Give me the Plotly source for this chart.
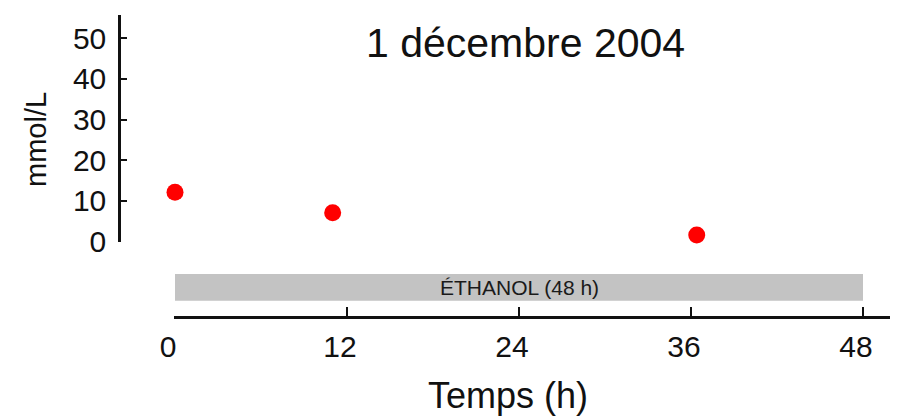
import plotly.graph_objects as go

# ---- data ----
time_h = [0, 11, 36.4]
conc_mmol = [12.1, 7.1, 1.6]
x_ticks = [0, 12, 24, 36, 48]
y_ticks = [0, 10, 20, 30, 40, 50]
treatment_label = "ÉTHANOL (48 h)"
treatment_start = [0]
treatment_end = [48]
title_text = "1 décembre 2004"
x_title = "Temps (h)"
y_title = "mmol/L"

OFF = 8  # page body margin
W, H = 899 - OFF, 420 - OFF
FONT = "Liberation Sans, Arial, sans-serif"

def px(xp):
    return (xp - OFF) / W

def py(yp):
    return 1 - (yp - OFF) / H

fig = go.Figure()
fig.add_trace(go.Scatter(
    x=time_h, y=conc_mmol, mode="markers",
    marker=dict(color="#ff0000", size=17, line=dict(width=0)),
    cliponaxis=False, showlegend=False,
))

fig.add_shape(type="rect", xref="x", yref="paper",
              x0=treatment_start[0], x1=treatment_end[0],
              y0=py(300.7), y1=py(274),
              fillcolor="#c3c3c3", line=dict(width=0), layer="below")

fig.add_annotation(x=(treatment_start[0] + treatment_end[0]) / 2, xref="x",
                   y=py(287.5), yref="paper", text=treatment_label,
                   showarrow=False, font=dict(family=FONT, size=21, color="#1a1a1a"),
                   xanchor="center", yanchor="middle")

fig.add_annotation(x=px(525), y=py(43), xref="paper", yref="paper",
                   text=title_text, showarrow=False,
                   font=dict(family=FONT, size=41, color="#111"),
                   xanchor="center", yanchor="middle")
fig.add_annotation(x=px(508), y=py(395), xref="paper", yref="paper",
                   text=x_title, showarrow=False,
                   font=dict(family=FONT, size=36, color="#111"),
                   xanchor="center", yanchor="middle")
fig.add_annotation(x=px(36), y=py(140), xref="paper", yref="paper",
                   text=y_title, showarrow=False, textangle=-90,
                   font=dict(family=FONT, size=29, color="#111"),
                   xanchor="center", yanchor="middle")

k = 688 / 48.0
fig.update_layout(
    width=W, height=H,
    margin=dict(l=0, r=0, t=0, b=0, pad=0),
    paper_bgcolor="white", plot_bgcolor="white",
    xaxis=dict(
        domain=[px(174), px(890)],
        range=[(174 - 175) / k, (890 - 175) / k],
        anchor="free", position=py(317),
        showgrid=False, zeroline=False,
        showline=True, linecolor="#111", linewidth=2.5,
        ticks="inside", ticklen=9, tickwidth=2, tickcolor="#111",
        tickvals=x_ticks, ticktext=[str(v) for v in x_ticks],
        tickfont=dict(family=FONT, size=30, color="#111"),
        ticklabelshift=-7, ticklabelstandoff=2,
        automargin=False, fixedrange=True,
    ),
    yaxis=dict(
        domain=[py(241.5), py(15)],
        range=[0, (241.5 - 15) / 4.064],
        anchor="free", position=px(119),
        showgrid=False, zeroline=False,
        showline=True, linecolor="#111", linewidth=2.5,
        ticks="inside", ticklen=6, tickwidth=2, tickcolor="#111",
        tickvals=y_ticks, ticktext=[str(v) for v in y_ticks],
        tickfont=dict(family=FONT, size=30, color="#111"),
        ticklabelstandoff=6,
        automargin=False, fixedrange=True,
    ),
)

fig.write_html("out.html")
